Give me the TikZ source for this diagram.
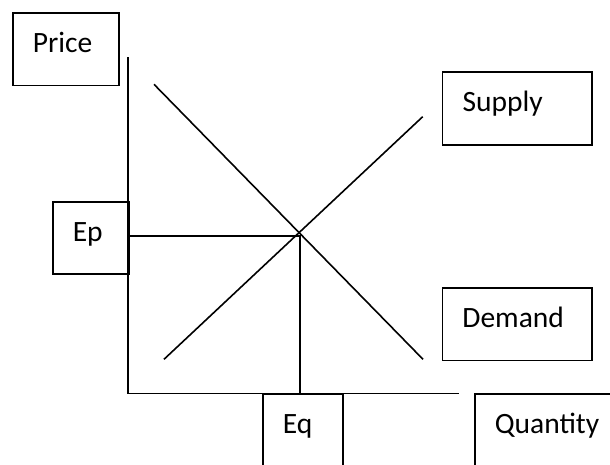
\documentclass[tikz,border=0pt]{standalone}
\usepackage{fontspec}
\setmainfont{Carlito}

\begin{document}
\begin{tikzpicture}[x=1pt,y=-1pt,line width=1.6pt,
	kasten/.style={draw,anchor=north west,inner xsep=20pt,inner ysep=0pt,align=left,
		text height=39.5pt,text depth=33pt,font=\fontsize{29.5}{35}\selectfont}]
			\useasboundingbox (0,0) rectangle (610,464);
			
			% Beschriftungskaesten
			\node[kasten,text width=66.3pt] (Price) at (12,12) {Price};
			\node[kasten,text width=109.3pt,text depth=33.8pt] (Supply) at (441.7,71) {Supply};
			\node[kasten,text width=36pt,text depth=32.8pt] (Ep) at (52,201) {Ep};
			\node[kasten,text width=109.8pt] (Demand) at (441.6,287.3) {Demand};
			\node[kasten,text width=40.4pt,text depth=50pt] (Eq) at (262,393.3) {Eq};
			\node[kasten,text width=120pt,text depth=50pt] (Quantity) at (474,393.3) {Quantity};
			
			% Koordinatenachsen zeichnen
			\coordinate (O) at (128,393.3);
			\draw (128,57) to (O) to (459,393.3);
			
			% Nachfrage und Angebot
			\draw (154,84.3) to (423,359.3);
			\draw (164,359.3) to (422.7,116.7);
			
			% Gleichgewicht
			\coordinate (GG) at (300,235.7);
			\draw (GG -| Ep.east) to (GG) to (GG |- Eq.north);
	\end{tikzpicture}
\end{document}
